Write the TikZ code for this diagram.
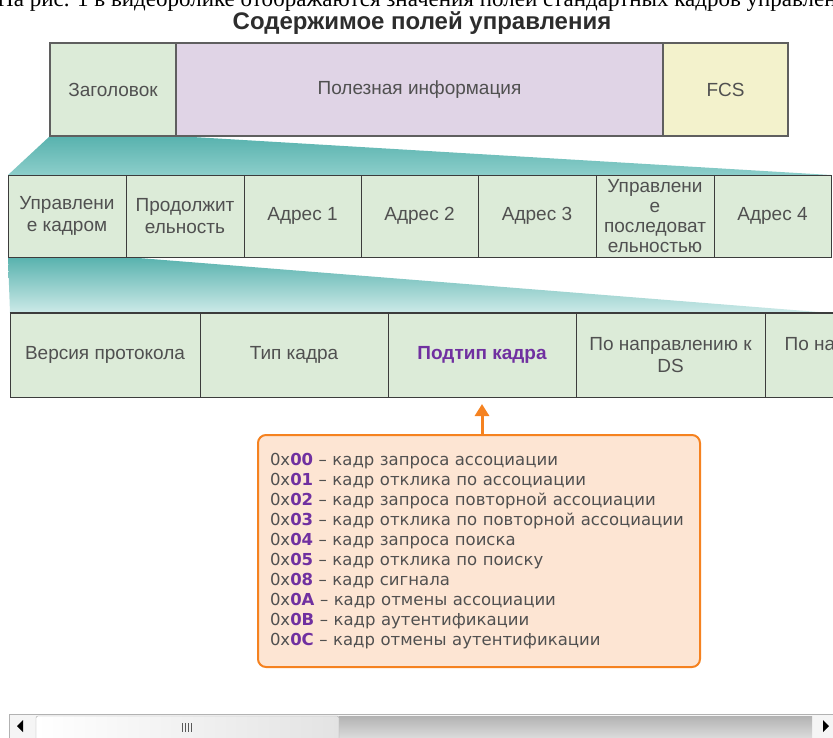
\documentclass[tikz,border=0pt]{standalone}
\usepackage{fontspec}
\setmainfont{Liberation Sans}
\newfontfamily\listfont{DejaVu Sans}
\newfontfamily\pagefont{Liberation Serif}
\usetikzlibrary{arrows.meta,positioning,calc,backgrounds}
\definecolor{fgreen}{RGB}{220,235,216}
\definecolor{fmauve}{RGB}{224,212,230}
\definecolor{fyellow}{RGB}{243,242,204}
\definecolor{fborder}{RGB}{95,95,95}
\definecolor{fline}{RGB}{60,60,60}
\definecolor{ftext}{RGB}{80,80,80}
\definecolor{ftitle}{RGB}{45,45,45}
\definecolor{fpurple}{RGB}{112,48,160}
\definecolor{forange}{RGB}{245,130,32}
\definecolor{fpeach}{RGB}{253,229,211}
\definecolor{fteal}{RGB}{88,178,174}
\definecolor{ftealA}{RGB}{140,206,202}
\definecolor{ftealB}{RGB}{205,234,232}
\newcommand{\fcode}[1]{0x\textbf{\textcolor{fpurple}{#1}}}

\begin{document}
\begin{tikzpicture}[x=1pt,y=-1pt,
  cell/.style={draw=fline,line width=1pt,fill=fgreen,text=ftext,align=center,
    font=\fontsize{19}{22}\selectfont,inner sep=0pt,outer sep=0pt,minimum height=82pt},
  topcell/.style={cell,draw=fborder,line width=2.5pt,minimum height=93pt}]
  \useasboundingbox (0,0) rectangle (833,737);
  \clip (0,0) rectangle (833,737);
  % Page text cut at the top
  \node[font=\pagefont\fontsize{23}{26}\selectfont,anchor=base west,inner sep=0pt] (lead) at (-3,6)
    {На рис. 1 в видеоролике отображаются значения полей стандартных кадров управления.};
  % Title
  \node[font=\bfseries\fontsize{24}{27}\selectfont,text=ftitle] (title) at (422,23)
    {Содержимое полей управления};
  % Frame
  \node[topcell,fill=fgreen,minimum width=126pt] (hdr) at (113,89.5) {Заголовок};
  \node[topcell,fill=fmauve,minimum width=487pt,right=0pt of hdr] (body) {Полезная информация};
  \node[topcell,fill=fyellow,minimum width=125pt,right=0pt of body] (fcs) {FCS};
  % Header fields
  \node[cell,minimum width=118pt] (fctl) at (67,216) {Управлени\\е кадром};
  \node[cell,minimum width=118pt,right=0pt of fctl] (dur) {Продолжит\\ельность};
  \node[cell,minimum width=117pt,right=0pt of dur] (adr1) {Адрес 1};
  \node[cell,minimum width=117pt,right=0pt of adr1] (adr2) {Адрес 2};
  \node[cell,minimum width=118pt,right=0pt of adr2] (adr3) {Адрес 3};
  \node[cell,minimum width=118pt,right=0pt of adr3,font=\fontsize{19}{20}\selectfont] (seq)
    {Управлени\\е\\последоват\\ельностью};
  \node[cell,minimum width=117pt,right=0pt of seq] (adr4) {Адрес 4};
  % Frame control bits
  \node[cell,minimum height=84pt,minimum width=190pt] (ver) at (105,355) {Версия протокола};
  \node[cell,minimum height=84pt,minimum width=188pt,right=0pt of ver] (type) {Тип кадра};
  \node[cell,minimum height=84pt,minimum width=188pt,right=0pt of type] (sub)
    {\textbf{\textcolor{fpurple}{Подтип кадра}}};
  \node[cell,minimum height=84pt,minimum width=189pt,right=0pt of sub] (tods) {По направлению к\\DS};
  \node[cell,minimum height=84pt,minimum width=188pt,right=0pt of tods] (fromds) {По направлению\\от DS};
  \draw[fline,line width=1.8pt] (ver.north west) -- (fromds.north east);
  % Zoom wedges
  \begin{scope}[on background layer]
    \shade[top color=fteal,bottom color=ftealA] (hdr.south west) -- (hdr.south east)
      -- (adr4.north east) -- (fctl.north west) -- cycle;
    \shade[top color=fteal,bottom color=ftealB] (fctl.south west) -- (fctl.south east)
      -- (adr4.east |- ver.north) -- (ver.north west) -- cycle;
  \end{scope}
  % Subtype values
  \node[draw=forange,line width=2pt,fill=fpeach,rounded corners=8pt,minimum width=442pt,
    minimum height=232pt,text width=418pt,align=left,inner sep=0pt,text=ftext,
    font=\listfont\fontsize{16.5}{20}\selectfont] (info) at (479,551)
    {\fcode{00} – кадр запроса ассоциации\\
     \fcode{01} – кадр отклика по ассоциации\\
     \fcode{02} – кадр запроса повторной ассоциации\\
     \fcode{03} – кадр отклика по повторной ассоциации\\
     \fcode{04} – кадр запроса поиска\\
     \fcode{05} – кадр отклика по поиску\\
     \fcode{08} – кадр сигнала\\
     \fcode{0A} – кадр отмены ассоциации\\
     \fcode{0B} – кадр аутентификации\\
     \fcode{0C} – кадр отмены аутентификации};
  \draw[-{Triangle[length=12pt,width=14pt]},line width=3pt,forange,shorten >=7pt]
    (sub.south |- info.north) -- (sub.south);
  % Scroll bar
  \draw[draw=gray!60,fill=gray!8] (9,714) rectangle (840,740);
  \shade[top color=gray!60,bottom color=gray!25] (339,716) rectangle (812,740);
  \draw[draw=gray!70,left color=white,right color=gray!22,rounded corners=2pt] (36,716) rectangle (339,740);
  \foreach \gx in {182,185,188,191}
    \draw[gray!70!black,line width=1pt] (\gx,723) -- (\gx,732);
  \fill (17,726) -- (23,720) -- (23,732) -- cycle;
  \fill (829,726) -- (823,720) -- (823,732) -- cycle;
\end{tikzpicture}
\end{document}
